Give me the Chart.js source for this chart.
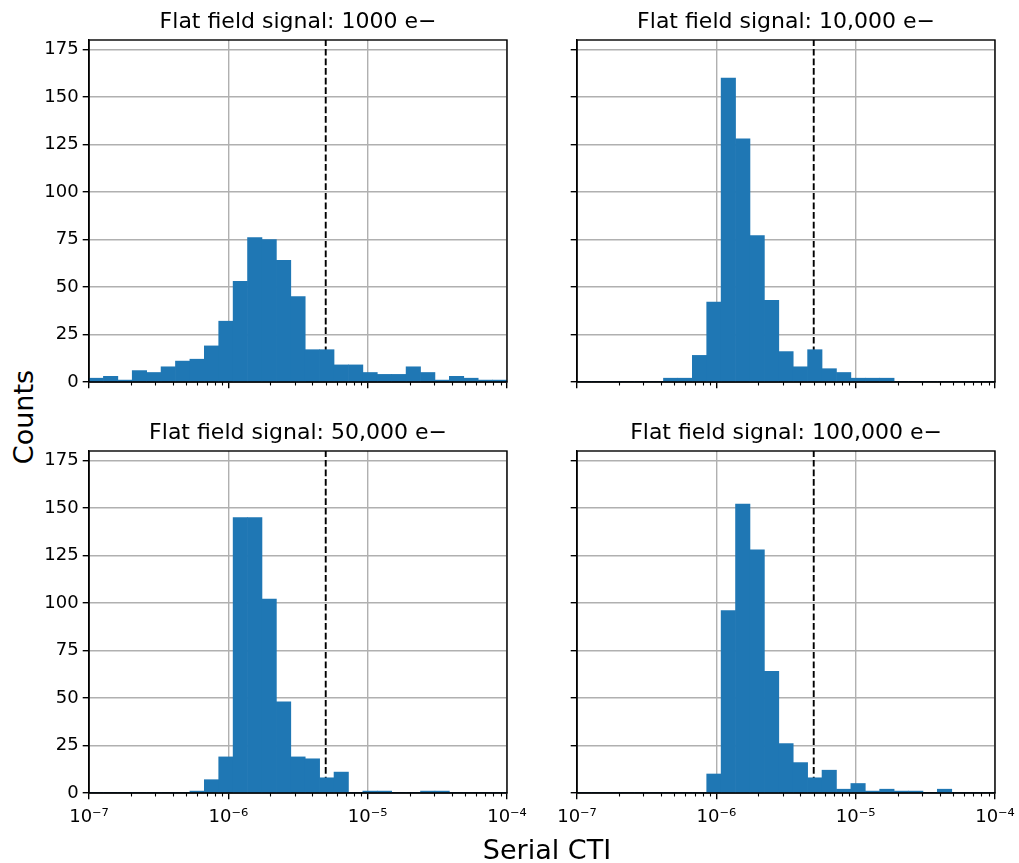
<!DOCTYPE html>
<html>
<head>
<meta charset="utf-8">
<title>Serial CTI histograms</title>
<script src="https://cdn.jsdelivr.net/npm/chart.js@4.4.0/dist/chart.umd.min.js"></script>
<style>
  body { margin: 0; background: #fff; }
  #fig { position: relative; width: 1019px; height: 863px; overflow: hidden; font-family: 'DejaVu Sans', sans-serif; }
  #fig canvas { position: absolute; }
  .axis-label { position: absolute; font-size: 27px; line-height: 1; color: #000; white-space: nowrap; }
  #ylabel { left: 23px; top: 417px; transform: translate(-50%, -50%) rotate(-90deg); }
  #xlabel { left: 547px; top: 836px; transform: translateX(-50%); }
</style>
</head>
<body>
<div id="fig">
  <canvas id="p1000" width="505" height="420" style="left:40px;top:0px"></canvas>
  <canvas id="p10000" width="505" height="420" style="left:530px;top:0px"></canvas>
  <canvas id="p50000" width="505" height="429" style="left:40px;top:411px"></canvas>
  <canvas id="p100000" width="505" height="429" style="left:530px;top:411px"></canvas>
  <div id="ylabel" class="axis-label">Counts</div>
  <div id="xlabel" class="axis-label">Serial CTI</div>
</div>
<script>
// histogram bins: 29 log-spaced bins from 1e-7 to 1e-4
const binCount = 29;
const logMin = -7;
const logMax = -4;
const decadeLabels = ['10⁻⁷', '10⁻⁶', '10⁻⁵', '10⁻⁴'];
const yTickStep = 25;
const yMax = 180;
const ctiThreshold = 5e-6;

const counts1000 = [2, 3, 1, 6, 5, 8, 11, 12, 19, 32, 53, 76, 75, 64, 45, 17, 17, 9, 9, 5, 4, 4, 8, 5, 1, 3, 2, 1, 1];
const counts10000 = [0, 0, 0, 0, 0, 0, 2, 2, 14, 42, 160, 128, 77, 43, 16, 8, 17, 7, 5, 2, 2, 2, 0, 0, 0, 0, 0, 0, 0];
const counts50000 = [0, 0, 0, 0, 0, 0, 0, 1, 7, 19, 145, 145, 102, 48, 19, 18, 8, 11, 0, 1, 1, 0, 0, 1, 1, 0, 0, 0, 0];
const counts100000 = [0, 0, 0, 0, 0, 0, 0, 0, 0, 10, 96, 152, 128, 64, 26, 16, 8, 12, 2, 5, 1, 2, 1, 1, 0, 2, 0, 0, 0];

const panelTitles = [
    'Flat field signal: 1000 e−',
    'Flat field signal: 10,000 e−',
    'Flat field signal: 50,000 e−',
    'Flat field signal: 100,000 e−'
];

const binCenters = Array.from({ length: binCount },
    (_, i) => logMin + (i + 0.5) * (logMax - logMin) / binCount);

Chart.defaults.font.family = 'DejaVu Sans';
Chart.defaults.color = '#000';

// minor log ticks + closed box around the plot area
const axesFrame = {
    id: 'axesFrame',
    afterDraw(chart) {
        const { ctx, chartArea: a } = chart;
        const x = chart.scales.x;
        ctx.save();
        ctx.strokeStyle = '#000';
        ctx.lineWidth = 1.1;
        ctx.beginPath();
        for (let d = logMin; d < logMax; d++) {
            for (let m = 2; m <= 9; m++) {
                const px = Math.round(x.getPixelForValue(d + Math.log10(m))) + 0.5;
                ctx.moveTo(px, a.bottom);
                ctx.lineTo(px, a.bottom + 3.6);
            }
        }
        ctx.stroke();
        ctx.lineWidth = 1.4;
        ctx.strokeRect(a.left, a.top, a.right - a.left, a.bottom - a.top);
        ctx.restore();
    }
};

function makePanel(canvasId, title, counts, showX, showY, yAxisWidth, rightPad, xAxisHeight) {
    const ctx = document.getElementById(canvasId).getContext('2d');
    return new Chart(ctx, {
        type: 'bar',
        data: {
            datasets: [{
                type: 'bar',
                data: counts.map((c, i) => ({ x: binCenters[i], y: c })),
                backgroundColor: '#1f77b4',
                borderWidth: 0,
                barPercentage: 1,
                categoryPercentage: 1
            }, {
                type: 'line',
                data: [{ x: Math.log10(ctiThreshold), y: 0 }, { x: Math.log10(ctiThreshold), y: yMax }],
                borderColor: '#000',
                borderWidth: 1.9,
                borderDash: [6.7, 2.9],
                pointRadius: 0,
                fill: false
            }]
        },
        options: {
            responsive: false,
            animation: false,
            layout: { padding: { left: 0, right: rightPad, top: 0, bottom: 0 } },
            plugins: {
                legend: { display: false },
                tooltip: { enabled: false },
                title: {
                    display: true,
                    text: title,
                    fullSize: false,
                    color: '#000',
                    font: { size: 22, weight: 'normal' },
                    padding: { top: 9, bottom: 4.6 }
                }
            },
            scales: {
                x: {
                    type: 'linear',
                    min: logMin,
                    max: logMax,
                    offset: false,
                    z: 1,
                    afterFit: s => { s.height = xAxisHeight; },
                    grid: {
                        offset: false,
                        color: '#b0b0b0',
                        lineWidth: 1.4,
                        tickLength: 6.3,
                        tickColor: '#000',
                        tickWidth: 1.4
                    },
                    border: { display: true, color: '#000', width: 1.4 },
                    ticks: {
                        display: showX,
                        stepSize: 1,
                        includeBounds: false,
                        maxRotation: 0,
                        padding: 7,
                        font: { size: 18 },
                        callback: v => decadeLabels[Math.round(v) - logMin]
                    }
                },
                y: {
                    type: 'linear',
                    min: 0,
                    max: yMax,
                    z: 1,
                    afterFit: s => { s.width = yAxisWidth; },
                    grid: {
                        color: '#b0b0b0',
                        lineWidth: 1.4,
                        tickLength: 6.3,
                        tickColor: '#000',
                        tickWidth: 1.4
                    },
                    border: { display: true, color: '#000', width: 1.4 },
                    ticks: {
                        display: showY,
                        stepSize: yTickStep,
                        includeBounds: false,
                        padding: 4,
                        font: { size: 18 }
                    }
                }
            }
        },
        plugins: [axesFrame]
    });
}

makePanel('p1000', panelTitles[0], counts1000, false, true, 49, 38, 38);
makePanel('p10000', panelTitles[1], counts10000, false, false, 47, 40, 38);
makePanel('p50000', panelTitles[2], counts50000, true, true, 49, 38, 47);
makePanel('p100000', panelTitles[3], counts100000, true, false, 47, 40, 47);
</script>
</body>
</html>
